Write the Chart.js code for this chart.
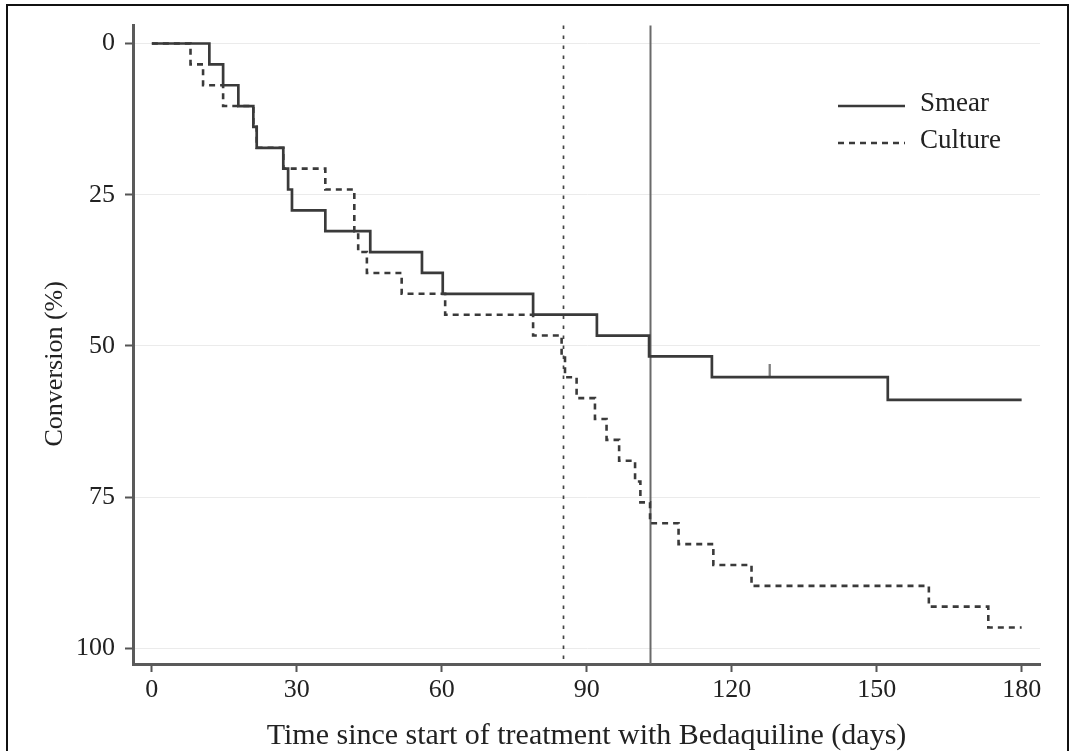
<!DOCTYPE html>
<html><head><meta charset="utf-8">
<script src="https://cdn.jsdelivr.net/npm/chart.js@4.4.1/dist/chart.umd.min.js"></script>
<style>
html,body{margin:0;padding:0;background:#fff;overflow:hidden;width:1070px;height:751px;}
#frame{position:absolute;left:6px;top:4px;width:1063px;height:800px;box-sizing:border-box;border:2px solid #111;}
#c{position:absolute;left:0;top:0;}
</style></head><body>
<div id="frame"></div>
<canvas id="c" width="1070" height="751"></canvas>
<script>
// ---- data ----
const seriesLabels = ['Smear', 'Culture'];
const smearDays = [0, 11.9, 14.75, 17.9, 21.0, 21.7, 27.2, 28.2, 29.0, 35.9, 45.2, 55.9, 60.2, 78.9, 92.1, 102.9, 115.9, 152.3, 180];
const smearPct  = [0, 3.45, 6.90, 10.34, 13.79, 17.24, 20.69, 24.14, 27.59, 31.03, 34.48, 37.93, 41.38, 44.83, 48.28, 51.72, 55.17, 58.90, 58.90];
const cultureDays = [0, 8.0, 10.6, 14.75, 21.0, 21.7, 27.2, 35.9, 41.9, 42.7, 44.5, 51.7, 60.7, 78.9, 84.8, 85.5, 87.9, 91.7, 94.1, 96.7, 100.0, 101.1, 103.1, 109.0, 116.2, 124.1, 160.8, 173.1, 180];
const culturePct  = [0, 3.45, 6.90, 10.34, 13.79, 17.24, 20.69, 24.14, 31.03, 34.48, 37.93, 41.38, 44.83, 48.28, 51.72, 55.17, 58.62, 62.07, 65.52, 68.97, 72.41, 75.86, 79.31, 82.76, 86.21, 89.66, 93.10, 96.55, 96.55];
const smearCensorDays = [127.9];
const smearCensorPct  = [55.17];
const medianDays = [85.0, 103.0];   // culture (dotted), smear (solid)
const xTicks = [0, 30, 60, 90, 120, 150, 180];
const yTicks = [0, 25, 50, 75, 100];
const xTitle = 'Time since start of treatment with Bedaquiline (days)';
const yTitle = 'Conversion (%)';

const serif = "'Liberation Serif', 'Times New Roman', serif";
const lineCol = '#3a3a3a';

const censorMark = document.createElement('canvas');
censorMark.width = 3; censorMark.height = 26;
(function(){ const g = censorMark.getContext('2d'); g.strokeStyle = '#444'; g.lineWidth = 1.6; g.beginPath(); g.moveTo(1.5,0); g.lineTo(1.5,13); g.stroke(); })();

const refLinesPlugin = {
  id: 'refLines',
  beforeDatasetsDraw(chart) {
    const {ctx, chartArea: {top, bottom}, scales: {x}} = chart;
    medianDays.forEach((d, i) => {
      const px = Math.round(x.getPixelForValue(d)) + 0.5;
      ctx.save();
      ctx.strokeStyle = i === 0 ? '#444' : '#6a6a6a';
      ctx.lineWidth = i === 0 ? 1.7 : 2;
      ctx.setLineDash(i === 0 ? [3.5, 6.5] : []);
      ctx.beginPath(); ctx.moveTo(px, top); ctx.lineTo(px, bottom); ctx.stroke();
      ctx.restore();
    });
  }
};

const yTitlePlugin = {
  id: 'yTitle',
  afterDraw(chart) {
    const {ctx, chartArea: {top, bottom}} = chart;
    ctx.save();
    ctx.translate(55, (top + bottom) / 2 + 19);
    ctx.rotate(-Math.PI / 2);
    ctx.fillStyle = '#222'; ctx.font = '26px ' + serif;
    ctx.textAlign = 'center'; ctx.textBaseline = 'middle';
    ctx.fillText(yTitle, 0, 0);
    ctx.restore();
  }
};

const legendPlugin = {
  id: 'kmLegend',
  afterDraw(chart) {
    const {ctx} = chart;
    [0, 1].forEach((di, k) => {
      const ds = chart.data.datasets[di];
      const y = 106 + k * 37;
      ctx.save();
      ctx.strokeStyle = ds.borderColor; ctx.lineWidth = ds.borderWidth;
      ctx.setLineDash(ds.borderDash || []);
      ctx.beginPath(); ctx.moveTo(838, y); ctx.lineTo(905, y); ctx.stroke();
      ctx.setLineDash([]);
      ctx.fillStyle = '#222'; ctx.font = '27px ' + serif; ctx.textBaseline = 'middle';
      ctx.fillText(ds.label, 920, y - 2);
      ctx.restore();
    });
  }
};

new Chart(document.getElementById('c'), {
  type: 'line',
  data: {
    datasets: [
      { label: seriesLabels[0], data: smearDays.map((d, i) => ({x: d, y: smearPct[i]})),
        stepped: 'before', borderColor: lineCol, borderWidth: 2.7, pointRadius: 0, fill: false },
      { label: seriesLabels[1], data: cultureDays.map((d, i) => ({x: d, y: culturePct[i]})),
        stepped: 'before', borderColor: lineCol, borderWidth: 2.6, borderDash: [6, 5], pointRadius: 0, fill: false },
      { label: 'censored', data: smearCensorDays.map((d, i) => ({x: d, y: smearCensorPct[i]})),
        showLine: false, pointStyle: censorMark, pointRadius: 6 }
    ]
  },
  options: {
    responsive: false, animation: false, devicePixelRatio: 1,
    layout: { padding: { top: 22, right: 30, left: 0, bottom: 0 } },
    plugins: { legend: { display: false }, tooltip: { enabled: false } },
    scales: {
      x: {
        type: 'linear', min: -3.9, max: 183.8,
        afterBuildTicks: s => { s.ticks = xTicks.map(v => ({value: v})); },
        afterFit: s => { s.height = 87; },
        grid: { drawOnChartArea: false, tickLength: 8, tickColor: '#555', tickWidth: 2 },
        border: { display: true, color: '#5a5a5a', width: 3 },
        ticks: { font: { family: serif, size: 26 }, color: '#222', padding: 3, maxRotation: 0, autoSkip: false },
        title: { display: true, text: xTitle, font: { family: serif, size: 30 }, color: '#222', padding: { top: 0, bottom: -3 } }
      },
      y: {
        type: 'linear', reverse: true, min: -2.96, max: 102.58,
        afterBuildTicks: s => { s.ticks = yTicks.map(v => ({value: v})); },
        afterFit: s => { s.width = 133; },
        grid: { color: '#ebebeb', lineWidth: 1, tickLength: 8, tickColor: '#555', tickWidth: 2 },
        border: { display: true, color: '#5a5a5a', width: 3 },
        ticks: { font: { family: serif, size: 26 }, color: '#222', padding: 10, autoSkip: false },
        title: { display: false }
      }
    }
  },
  plugins: [refLinesPlugin, yTitlePlugin, legendPlugin]
});
</script>
</body></html>
